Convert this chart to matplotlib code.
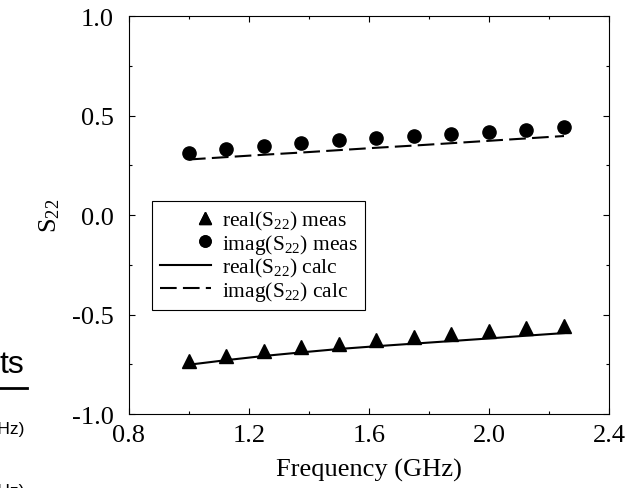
import numpy as np
import matplotlib
matplotlib.use('Agg')
import matplotlib.pyplot as plt
from matplotlib.ticker import MultipleLocator
from matplotlib.legend_handler import HandlerLine2D

plt.rcParams['font.family'] = 'Liberation Serif'
plt.rcParams['mathtext.fontset'] = 'custom'
plt.rcParams['mathtext.rm'] = 'Liberation Serif'
plt.rcParams['mathtext.it'] = 'Liberation Serif:italic'

# frequency points (GHz)
freq = [1.0, 1.125, 1.25, 1.375, 1.5, 1.625, 1.75, 1.875, 2.0, 2.125, 2.25]

# measured S22
real_meas = [-0.732, -0.707, -0.685, -0.665, -0.648, -0.628, -0.612, -0.598, -0.581, -0.569, -0.556]
imag_meas = [0.315, 0.332, 0.348, 0.365, 0.377, 0.387, 0.398, 0.410, 0.420, 0.428, 0.441]

# calculated S22
real_calc = [-0.752, -0.729, -0.708, -0.690, -0.673, -0.659, -0.646, -0.633, -0.620, -0.606, -0.593]
imag_calc = [0.280, 0.292, 0.304, 0.315, 0.327, 0.339, 0.350, 0.362, 0.374, 0.386, 0.398]


class RightMarker(HandlerLine2D):
    # put the legend marker at the right end of the handle (numpoints=2, same spot)
    def get_xdata(self, legend, xdescent, ydescent, width, height, fontsize):
        xm = -xdescent + width - 0.3 * fontsize
        return [xm, xm], [xm, xm]


fig = plt.figure(figsize=(6.31, 4.89), dpi=100)
ax = fig.add_axes([0.2044, 0.1513, 0.7607, 0.8133])

tri, = ax.plot(freq, real_meas, ls='none', marker='^', ms=9.5, color='black', label=r'real(S$_{22}$) meas')
circ, = ax.plot(freq, imag_meas, ls='none', marker='o', ms=9.5, color='black', label=r'imag(S$_{22}$) meas')
ax.plot(freq, real_calc, ls='-', lw=1.5, color='black', label=r'real(S$_{22}$) calc')
ax.plot(freq, imag_calc, ls=(0, (8, 3)), lw=1.5, color='black', label=r'imag(S$_{22}$) calc')

ax.set_xlim(0.8, 2.4)
ax.set_ylim(-1.0, 1.0)
ax.xaxis.set_major_locator(MultipleLocator(0.4))
ax.xaxis.set_minor_locator(MultipleLocator(0.2))
ax.yaxis.set_major_locator(MultipleLocator(0.5))
ax.yaxis.set_minor_locator(MultipleLocator(0.25))
ax.xaxis.set_major_formatter(plt.FormatStrFormatter('%.1f'))
ax.yaxis.set_major_formatter(plt.FormatStrFormatter('%.1f'))
ax.tick_params(which='both', direction='in', top=True, right=True, width=0.8, labelsize=19)
ax.tick_params(which='major', length=4)
ax.tick_params(which='minor', length=2.5)
ax.tick_params(axis='y', pad=11)
ax.tick_params(axis='x', pad=7)
for s in ax.spines.values():
    s.set_linewidth(0.8)

ax.set_xlabel('Frequency (GHz)', fontsize=19, labelpad=9)
ax.set_ylabel(r'S$_{22}$', fontsize=19, labelpad=7)

leg = ax.legend(loc='upper left', bbox_to_anchor=(0.048, 0.535), borderaxespad=0,
                fontsize=15.5, fancybox=False, edgecolor='black', framealpha=1,
                handlelength=2.4, handletextpad=0.5, labelspacing=0.0,
                borderpad=0.35, markerscale=0.85,
                handler_map={tri: RightMarker(numpoints=2), circ: RightMarker(numpoints=2)})
leg.get_frame().set_linewidth(0.8)

# leftovers of the slide behind the chart
fig.text(0.0, 1 - 373 / 489, 'ts', fontsize=23, family='Liberation Sans', ha='left', va='baseline')
fig.add_artist(plt.Line2D([0, 27 / 631], [1 - 389 / 489, 1 - 389 / 489], color='black', lw=2))
fig.text(25 / 631, 1 - 430 / 489, '(GHz)', fontsize=12.5, family='Liberation Sans', ha='right', va='center')
fig.text(25 / 631, 1 - 492 / 489, '(GHz)', fontsize=12.5, family='Liberation Sans', ha='right', va='center')

fig.savefig('out.png', dpi=100)
